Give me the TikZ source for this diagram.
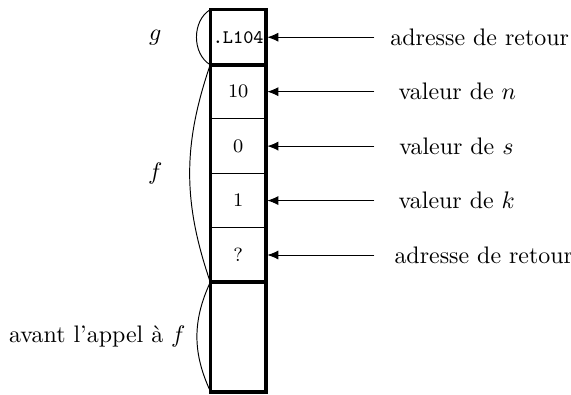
\documentclass[tikz,border=0pt]{standalone}
\usepackage{tikz}
\usetikzlibrary{positioning}
\usetikzlibrary{arrows.meta}

\tikzset{
  cell/.style={draw, thin, minimum width=0.8cm, minimum height=0.8cm, inner sep=0pt, font=\footnotesize},
  lbl/.style={anchor=west, inner xsep=0pt},
  arr/.style={-{Latex[length=4.6pt,width=3.8pt]}, thin, shorten >=0.6pt}
}

\begin{document}
\begin{tikzpicture}
\useasboundingbox (-3.10,0.147) rectangle (5.29,-5.645);
%stack cells
\node[cell] (c1) at (0.4,-0.4) {\texttt{.L104}};
\node[cell] (c2) at (0.4,-1.2) {10};
\node[cell] (c3) at (0.4,-2.0) {0};
\node[cell] (c4) at (0.4,-2.8) {1};
\node[cell] (c5) at (0.4,-3.6) {?};
\node[cell, minimum height=1.6cm] (c6) at (0.4,-4.8) {};
%frames
\draw[ultra thick] (c1.north west) rectangle (c6.south east);
\draw[ultra thick] (c1.south west) -- (c1.south east);
\draw[ultra thick] (c6.north west) -- (c6.north east);
%braces
\draw (c1.north west) to[bend right=60] (c1.south west);
\draw (c2.north west) to[bend right=19] (c5.south west);
\draw (c6.north west) to[bend right=25] (c6.south west);
\node (g) at (-0.82,-0.4) {$g$};
\node (f) at (-0.82,-2.4) {$f$};
\node[anchor=east] (avant) at (-0.25,-4.8) {avant l'appel à $f$};
%pointers
\coordinate (e1) at (2.4,-0.4);
\coordinate (e2) at (2.4,-1.2);
\coordinate (e3) at (2.4,-2.0);
\coordinate (e4) at (2.4,-2.8);
\coordinate (e5) at (2.4,-3.6);
\draw[arr] (e1) -- (c1);
\draw[arr] (e2) -- (c2);
\draw[arr] (e3) -- (c3);
\draw[arr] (e4) -- (c4);
\draw[arr] (e5) -- (c5);
\node[lbl, right=0.23cm of e1] (ret1) {adresse de retour};
\node[lbl, right=0.35cm of e2] (valn) {valeur de $n$};
\node[lbl, right=0.36cm of e3] (vals) {valeur de $s$};
\node[lbl, right=0.35cm of e4] (valk) {valeur de $k$};
\node[lbl, right=0.29cm of e5] (ret2) {adresse de retour};
\end{tikzpicture}
\end{document}
